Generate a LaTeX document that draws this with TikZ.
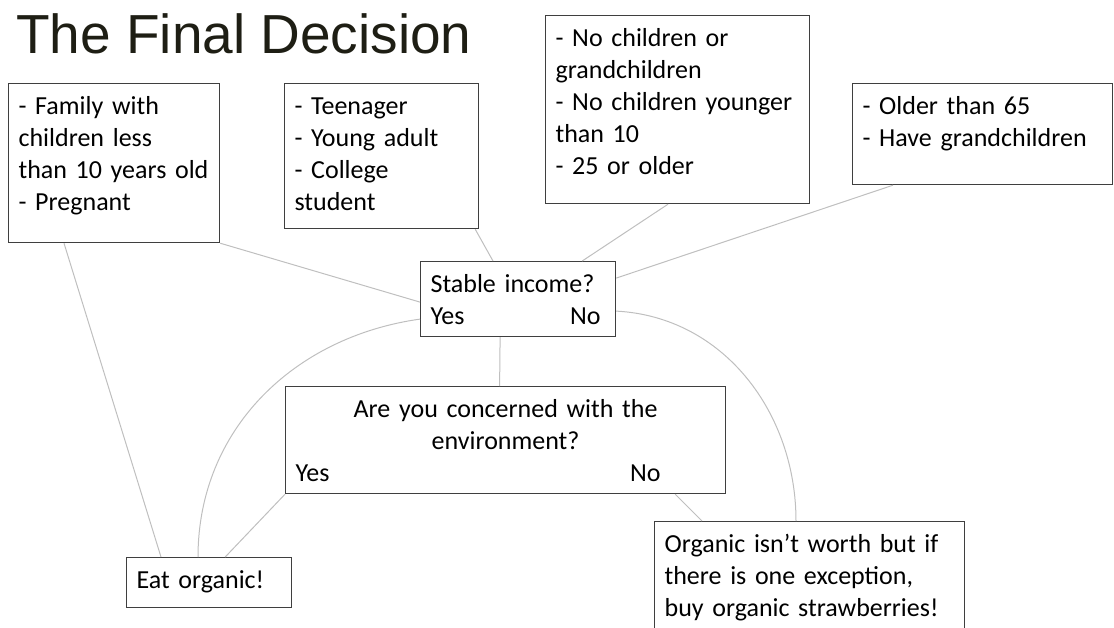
\documentclass[tikz,border=0pt]{standalone}
\usepackage{fontspec}
\setmainfont{Carlito}
\newfontfamily\titlefont{Liberation Sans}
\usepackage{tikz}
\usepackage{xcolor}
\definecolor{titletext}{HTML}{1E1E14}
\definecolor{boxedge}{HTML}{3F3F3F}
\definecolor{conngray}{HTML}{BFBFBF}
\tikzstyle{box} = [rectangle, anchor=north west, draw=boxedge, line width=1.2pt, align=left, inner xsep=10pt, inner ysep=0pt, text height=31pt, font=\fontsize{26}{32}\selectfont]
\tikzstyle{conn} = [draw=conngray, line width=1pt]

\begin{document}
\begin{tikzpicture}[x=1pt, y=1pt]
    \useasboundingbox (0,0) rectangle (1114,-627);
    \node (title) [anchor=base west, inner sep=0pt, text=titletext, font=\titlefont\fontsize{55}{60}\selectfont] at (16,-53) {The Final Decision};

    \node (grp1) [box, text width=191pt, text depth=128pt] at (8,-83) {- Family with\\children less\\than 10 years old\\- Pregnant};
    \node (grp2) [box, text width=174pt, text depth=114pt] at (284,-83) {- Teenager\\- Young adult\\- College\\student};
    \node (grp3) [box, text width=244pt, text depth=157pt] at (545,-15) {- No children or\\grandchildren\\- No children younger\\than 10\\- 25 or older};
    \node (grp4) [box, text width=240pt, text depth=70pt] at (852,-83) {- Older than 65\\- Have grandchildren};

    \node (q1) [box, text width=175pt, text depth=44pt] at (420,-261) {Stable income?\\Yes\hfill No\rule{5pt}{0pt}};
    \node (q2) [box, align=center, text width=420pt, text depth=76pt] at (285,-386) {Are you concerned with the\\environment?\\Yes\hfill No\rule{55pt}{0pt}};

    \node (res1) [box, text width=145pt, text depth=19pt] at (126,-557) {Eat organic!};
    \node (res2) [box, text width=290pt, text depth=89pt] at (654,-521) {Organic isn’t worth but if\\there is one exception,\\buy organic strawberries!};

    \draw[conn] ([xshift=56pt]grp1.south west) -- ([xshift=35pt]res1.north west);
    \draw[conn] (grp1.south east) -- ([yshift=-3pt]q1.west);
    \draw[conn] ([xshift=-4pt]grp2.south east) -- ([xshift=73pt]q1.north west);
    \draw[conn] ([xshift=123pt]grp3.south west) -- ([xshift=-34pt]q1.north east);
    \draw[conn] ([xshift=41pt]grp4.south west) -- ([yshift=21pt]q1.east);
    \draw[conn] ([xshift=-18pt]q1.south) -- ([xshift=-6pt]q2.north);
    \draw[conn] ([yshift=-20pt]q1.west) to[out=188, in=90] ([xshift=72pt]res1.north west);
    \draw[conn] ([yshift=-12pt]q1.east) to[out=-3, in=90] ([xshift=142pt]res2.north west);
    \draw[conn] (q2.south west) -- ([xshift=-67pt]res1.north east);
    \draw[conn] ([xshift=-51pt]q2.south east) -- ([xshift=48pt]res2.north west);
\end{tikzpicture}
\end{document}
